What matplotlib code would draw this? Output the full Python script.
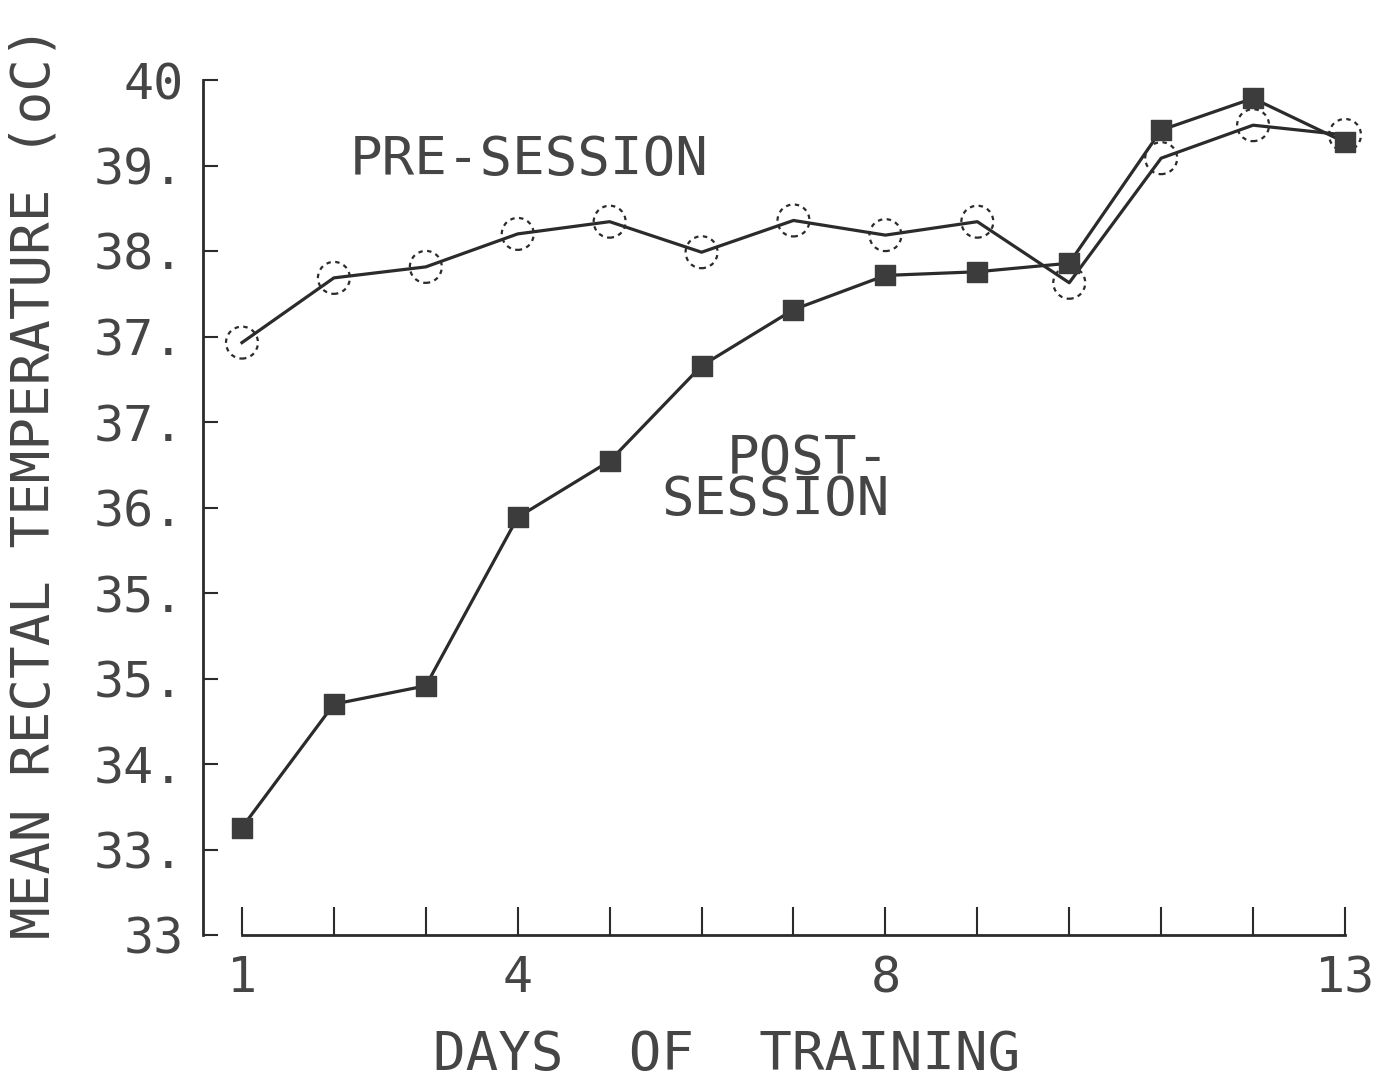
import matplotlib.pyplot as plt

days = list(range(1, 14))
pre_session = [37.85, 38.38, 38.47, 38.74, 38.84, 38.59, 38.85, 38.73, 38.84, 38.34, 39.36, 39.63, 39.55]
post_session = [33.88, 34.89, 35.04, 36.42, 36.88, 37.66, 38.12, 38.40, 38.43, 38.50, 39.59, 39.85, 39.49]

y_ticks = [33.0, 33.7, 34.4, 35.1, 35.8, 36.5, 37.2, 37.9, 38.6, 39.3, 40.0]
y_labels = ["33", "33.", "34.", "35.", "35.", "36.", "37.", "37.", "38.", "39.", "40"]
x_labels = {1: "1", 4: "4", 8: "8", 13: "13"}

ink = "#2b2b2b"
text_ink = "#454545"
plt.rcParams['font.family'] = ['DejaVu Sans Mono']

fig = plt.figure(figsize=(13.8, 10.85), dpi=100)
ax = fig.add_axes([203 / 1380, 150 / 1085, 1142 / 1380, 855 / 1085])

# pre-session: open dotted circles, post-session: filled squares
ax.plot(days, pre_session, color=ink, lw=2.3, zorder=2, clip_on=False)
ax.plot(days, post_session, color=ink, lw=2.3, zorder=2, clip_on=False)
ax.scatter(days, pre_session, s=23 ** 2, facecolors="none", edgecolors=ink,
           linewidths=1.6, linestyle=(0, (2, 2)), zorder=3, clip_on=False)
ax.scatter(days, post_session, s=14 ** 2, marker="s", color="#3c3c3c",
           zorder=3, clip_on=False)

ax.set_xlim(0.576, 13)
ax.set_ylim(33, 40)

for side in ["top", "right"]:
    ax.spines[side].set_visible(False)
ax.spines["bottom"].set_bounds(1, 13)
ax.spines["left"].set_linewidth(2)
ax.spines["bottom"].set_linewidth(2)
ax.spines["left"].set_color(ink)
ax.spines["bottom"].set_color(ink)

ax.set_xticks(days)
ax.set_xticklabels([x_labels.get(d, "") for d in days])
ax.set_yticks(y_ticks)
ax.set_yticklabels(y_labels)
ax.tick_params(axis="x", direction="in", length=20, width=1.5, pad=14,
               labelsize=36, color=ink, labelcolor=text_ink)
ax.tick_params(axis="y", direction="in", length=11, width=1.5, pad=14,
               labelsize=36, color=ink, labelcolor=text_ink)

ax.text(2.175, 39.345, "PRE-SESSION", fontsize=39, color=text_ink, ha="left", va="center")
ax.text(8.05, 36.73, "POST-\nSESSION", fontsize=39, color=text_ink, ha="right",
        va="center", multialignment="right", linespacing=0.75)

fig.text(35 / 1380, 1 - 482 / 1085, "MEAN RECTAL TEMPERATURE (oC)", fontsize=39,
         color=text_ink, rotation=90, ha="center", va="center")
fig.text(727 / 1380, 1 - 1055 / 1085, "DAYS  OF  TRAINING", fontsize=39,
         color=text_ink, ha="center", va="center")

fig.savefig("out.png", dpi=100, facecolor="white")
